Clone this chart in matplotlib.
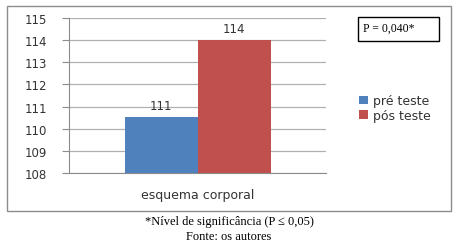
import numpy as np
import matplotlib.pyplot as plt
from matplotlib.patches import Rectangle

# Dados
categorias = ["esquema corporal"]
series = ["pré teste", "pós teste"]
valores_pre = [110.55]
valores_pos = [114.0]
rotulos = ["111", "114"]
cores = ["#4F81BD", "#C0504D"]

W, H = 455, 251
fig = plt.figure(figsize=(W / 100, H / 100), dpi=100)

# moldura cinza do gráfico
fig.patches.append(Rectangle((7 / W, 1 - 212 / H), 444 / W, 205 / H,
                             transform=fig.transFigure, fill=False,
                             edgecolor="#8c8c8c", linewidth=1.0))

ax = fig.add_axes([69 / W, 1 - 174 / H, (326 - 69) / W, (174 - 19) / H])

x = np.arange(len(categorias))
larg = 73 / (326 - 69)
b1 = ax.bar(x - larg / 2, valores_pre, width=larg, color=cores[0], label=series[0], zorder=3)
b2 = ax.bar(x + larg / 2, valores_pos, width=larg, color=cores[1], label=series[1], zorder=3)

for bars, lab in zip([b1, b2], rotulos):
    for b in bars:
        ax.text(b.get_x() + b.get_width() / 2, b.get_height() + 0.22, lab,
                ha="center", va="bottom", fontsize=8.5, color="#333333")

ax.set_xlim(-0.5, 0.5)
ax.set_ylim(108, 115)
ax.set_yticks(range(108, 116))
ax.set_xticks(x)
ax.set_xticklabels(categorias, fontsize=9)
ax.tick_params(axis="x", length=0, pad=11, colors="#333333")
ax.tick_params(axis="y", length=5, color="#8c8c8c", labelsize=8.5, pad=11, labelcolor="#333333")
ax.yaxis.grid(True, color="#b0b0b0", linewidth=0.9, zorder=0)
for s in ["top", "right"]:
    ax.spines[s].set_visible(False)
ax.spines["left"].set_color("#8c8c8c")
ax.spines["bottom"].set_color("#8c8c8c")

leg = fig.legend(handles=[b1, b2], loc="upper left",
                 bbox_to_anchor=(348 / W, 1 - 84 / H), frameon=False,
                 fontsize=9, handlelength=0.7, handleheight=0.7,
                 handletextpad=0.4, labelspacing=0.15)
for t in leg.get_texts():
    t.set_color("#333333")

# caixa do valor P
fig.patches.append(Rectangle((358 / W, 1 - 42 / H), 81 / W, 24 / H,
                             transform=fig.transFigure, facecolor="white",
                             edgecolor="black", linewidth=1.0))
fig.text(363 / W, 1 - 29 / H, "P = 0,040*", ha="left", va="center",
         fontsize=8.5, family="Liberation Serif")

fig.text(229 / W, 1 - 222 / H, "*Nível de significância (P \u2264 0,05)",
         ha="center", va="center", fontsize=9, family="Liberation Serif")
fig.text(229 / W, 1 - 237 / H, "Fonte: os autores",
         ha="center", va="center", fontsize=9, family="Liberation Serif")

fig.savefig("out.png", dpi=100)
